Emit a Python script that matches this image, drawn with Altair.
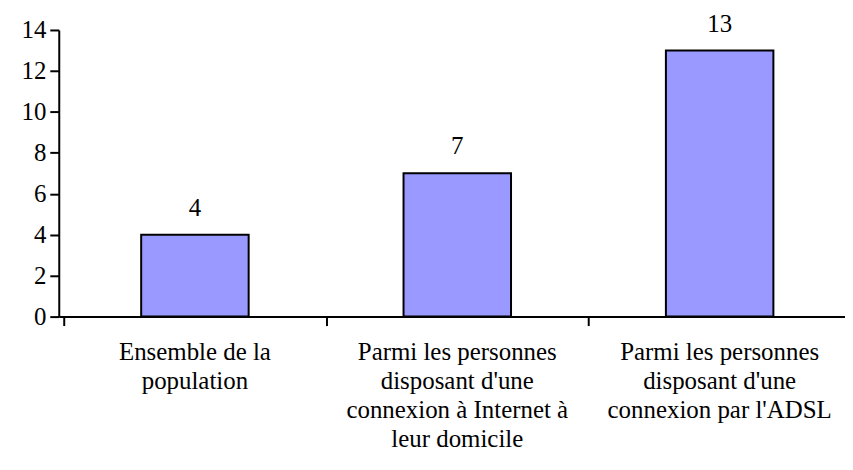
import altair as alt
import pandas as pd

categories = [
    "Ensemble de la\npopulation",
    "Parmi les personnes\ndisposant d'une\nconnexion à Internet à\nleur domicile",
    "Parmi les personnes\ndisposant d'une\nconnexion par l'ADSL",
]
values = [4, 7, 13]
y_ticks = [0, 2, 4, 6, 8, 10, 12, 14]
x_boundaries = [-0.5, 0.5, 1.5, 2.5]

df = pd.DataFrame({"idx": list(range(len(values))), "cat": categories, "value": values})

FONT = "'Liberation Serif', Tinos, 'Times New Roman', Times, 'DejaVu Serif', serif"
FS = 25

x_enc = alt.X(
    "idx:Q",
    scale=alt.Scale(domain=[-0.5, 2.4588], nice=False, zero=False),
    axis=alt.Axis(
        values=x_boundaries,
        labels=False,
        title=None,
        grid=False,
        tickSize=9,
        tickWidth=2,
        tickColor="black",
        domainColor="black",
        domainWidth=2,
    ),
)

bars = alt.Chart(df).mark_bar(size=108, color="#9999FF", stroke="black", strokeWidth=2).encode(
    x=x_enc,
    y=alt.Y(
        "value:Q",
        scale=alt.Scale(domain=[0, 14], nice=False),
        axis=alt.Axis(
            values=y_ticks,
            title=None,
            grid=False,
            tickSize=9,
            tickWidth=2,
            tickColor="black",
            domainColor="black",
            domainWidth=2,
            labelFont=FONT,
            labelFontSize=FS,
            labelColor="black",
            labelPadding=4,
        ),
    ),
)

value_labels = alt.Chart(df).mark_text(
    font=FONT, fontSize=FS, color="black", baseline="middle", align="center", dy=-27
).encode(x="idx:Q", y="value:Q", text="value:Q")

cat_labels = alt.Chart(df).mark_text(
    font=FONT, fontSize=FS, color="black", baseline="alphabetic", align="center",
    lineBreak="\n", lineHeight=29,
).encode(x="idx:Q", y=alt.value(332), text="cat:N")

chart = (
    alt.layer(bars, value_labels, cat_labels)
    .properties(
        width=790,
        height=288,
        autosize=alt.AutoSizeParams(type="none"),
        padding={"left": 51, "top": 21, "right": 0, "bottom": 141},
    )
    .configure_view(stroke=None)
)

chart.save("out.html", embed_options={"renderer": "svg", "actions": False})
